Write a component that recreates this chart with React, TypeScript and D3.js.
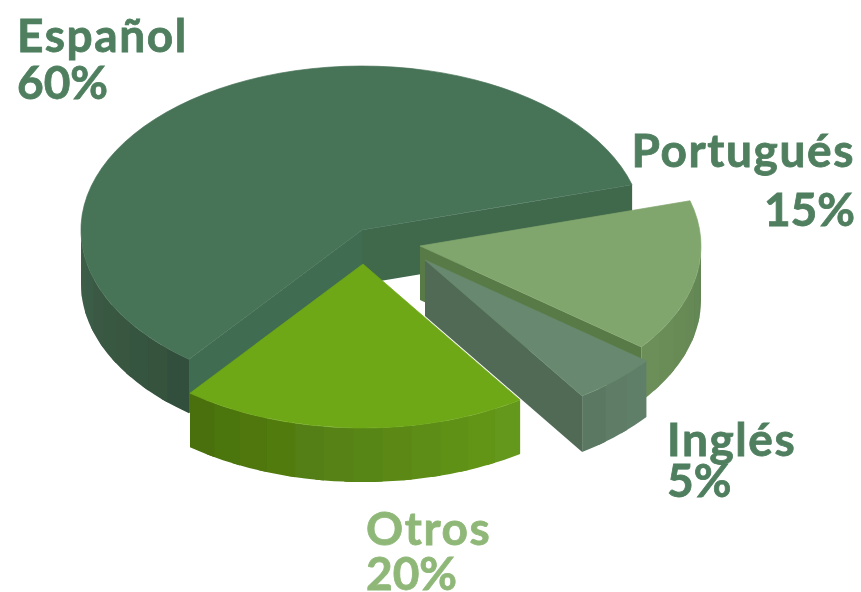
import * as d3 from 'd3';

const languages = ['Portugués', 'Inglés', 'Otros', 'Español'];
const shares = [15, 5, 20, 60];
const percentLabels = ['15%', '5%', '20%', '60%'];

const width = 861;
const height = 592;
const rx = 281;
const ry = 164;
const rad = Math.PI / 180;

// exploded slice apexes and wall heights, same order as languages
const apexes = [[420, 246], [425, 260], [363, 264], [362, 230]];
const depths = [54, 56, 54, 54];
const topColors = ['#81a66d', '#68896f', '#6ea816', '#477357'];
const rimColors = [['#628552', '#6c8f5a'], ['#617f69', '#5a7862'], ['#64981a', '#4a700e'], ['#32503c', '#3e5f49']];
const startWalls = [null, null, null, '#406c51'];
const endWalls = ['#587a46', '#516b55', null, '#40684c'];
const labelColors = ['#4f7f5f', '#4f7f5f', '#8fb878', '#4f7f5f'];
const labelPos = [
  { x: 855, y: 167, y2: 226, anchor: 'end' },
  { x: 667, y: 456, y2: 497, anchor: 'start' },
  { x: 366, y: 545, y2: 590, anchor: 'start' },
  { x: 17, y: 52, y2: 99, anchor: 'start' },
];

const pie = d3.pie<number>().sort(null).startAngle(74 * rad).endAngle(434 * rad);
const arc = d3.arc();
const slices = pie(shares);
const drawOrder = [3, 0, 1, 2];

const rimArea = (cx: number, cy: number, depth: number) =>
  d3.area<number>()
    .x(a => cx + rx * Math.sin(a))
    .y0(a => cy - ry * Math.cos(a))
    .y1(a => cy - ry * Math.cos(a) + depth);

// outer wall is split into narrow bands, only the part facing the viewer (90 to 270 deg)
function rimBands(i: number) {
  const s = slices[i];
  const from = Math.max(s.startAngle, 90 * rad);
  const to = Math.min(s.endAngle, 270 * rad);
  if (to <= from) return [];
  const n = Math.max(1, Math.round((to - from) / (6 * rad)));
  const step = d3.scaleLinear().domain([0, n]).range([from, to]);
  const color = d3.scaleLinear<string>().domain([0, n - 1 || 1]).range(rimColors[i]);
  // each band runs a bit under the next one so no seams show
  return d3.range(n).map(k => ({
    d: rimArea(apexes[i][0], apexes[i][1], depths[i])(
      d3.range(0, 1.001, 0.25).map(t => Math.min(step(k + t * 1.3), to))
    ),
    fill: color(k),
  }));
}

function wallPath(i: number, a: number) {
  const [cx, cy] = apexes[i];
  const x = cx + rx * Math.sin(a);
  const y = cy - ry * Math.cos(a);
  const p = d3.path();
  p.moveTo(cx, cy);
  p.lineTo(x, y);
  p.lineTo(x, y + depths[i]);
  p.lineTo(cx, cy + depths[i]);
  p.closePath();
  return p.toString();
}

export default function App() {
  return (
    <svg width={width} height={height} style={{ position: 'absolute', left: 0, top: 0 }}>
      <defs>
        <filter id="soft" x="0" y="0" width="100%" height="100%" filterUnits="userSpaceOnUse">
          <feGaussianBlur stdDeviation={0.6} />
        </filter>
      </defs>
      <g filter="url(#soft)">
        {drawOrder.map(i => (
          <g key={languages[i]}>
            {rimBands(i).map((b, k) => (
              <path key={k} d={b.d!} fill={b.fill} />
            ))}
            {startWalls[i] && <path d={wallPath(i, slices[i].startAngle)} fill={startWalls[i]!} />}
            {endWalls[i] && <path d={wallPath(i, slices[i].endAngle)} fill={endWalls[i]!} />}
            <path
              transform={`translate(${apexes[i][0]},${apexes[i][1]}) scale(${rx},${ry})`}
              d={arc({ startAngle: slices[i].startAngle, endAngle: slices[i].endAngle, innerRadius: 0, outerRadius: 1 })!}
              fill={topColors[i]}
              stroke={topColors[i]}
              strokeWidth={0.7}
              vectorEffect="non-scaling-stroke"
            />
          </g>
        ))}
        {languages.map((name, i) => (
          <g
            key={name}
            fontFamily="Lato, Inter, sans-serif"
            fontWeight={700}
            fontSize={46}
            fill={labelColors[i]}
            stroke={labelColors[i]}
            strokeWidth={0.8}
            textAnchor={labelPos[i].anchor}
          >
            <text x={labelPos[i].x} y={labelPos[i].y} letterSpacing={1.6}>{name}</text>
            <text x={labelPos[i].x} y={labelPos[i].y2}>{percentLabels[i]}</text>
          </g>
        ))}
      </g>
    </svg>
  );
}
